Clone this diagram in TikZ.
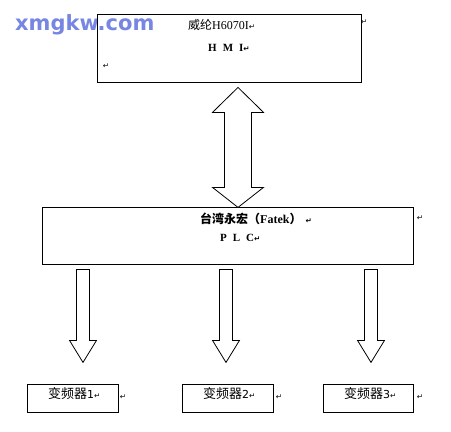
\documentclass[tikz,border=0pt]{standalone}
\usepackage{fontspec}
\setmainfont{Liberation Serif}
\newfontfamily\cjk{Noto Sans CJK SC}
\newfontfamily\symb{DejaVu Sans}
\newcommand\pmark{{\symb\fontsize{7.5}{8}\selectfont ↵}}
\usetikzlibrary{calc}

\definecolor{wmblue}{RGB}{118,134,226}

\begin{document}
\begin{tikzpicture}[x=1pt,y=-1pt,
    box/.style={draw, line width=0.8pt, inner sep=0pt},
    txt/.style={inner sep=0pt, anchor=base west},
    mk/.style={inner sep=0pt},
    blockarrow/.style={draw, line width=0.8pt, fill=white, line join=miter}]

  \useasboundingbox (0,0) rectangle (451,432);

  % watermark
  \node[txt, text=wmblue, font=\symb\bfseries\fontsize{21}{21}\selectfont] (wm) at (15,30) {xmgkw.com};

  % boxes
  \node[box, minimum width=264, minimum height=68] (hmi) at (229,48) {};
  \node[box, minimum width=371, minimum height=57] (plc) at (227.5,235.5) {};
  \node[box, minimum width=91, minimum height=28] (vfd1) at (72.5,398) {};
  \node[box, minimum width=91, minimum height=28] (vfd2) at (227.5,398) {};
  \node[box, minimum width=90, minimum height=28] (vfd3) at (368,398) {};

  % texts
  \begin{scope}[every node/.style={txt, font=\fontsize{12}{13}\selectfont}]
    \node (hmi1) at (188,29) {{\cjk 威纶}H6070I\pmark};
    \node[font=\bfseries\fontsize{11}{12}\selectfont] (hmi2) at (208,51) {H\hspace{6pt}M\hspace{6pt}I\pmark};
    \node[font=\bfseries\fontsize{12}{13}\selectfont] (plc1) at (200,223) {{\cjk 台湾永宏（}Fatek{\cjk ）}\hspace{4pt}\pmark};
    \node[font=\bfseries\fontsize{11}{12}\selectfont] (plc2) at (220,241) {P\hspace{6pt}L\hspace{6pt}C\pmark};
    \node[font=\fontsize{13}{14}\selectfont] (vfdt1) at (48,398) {{\cjk 变频器}{\symb\fontsize{11}{12}\selectfont 1}\pmark};
    \node[font=\fontsize{13}{14}\selectfont] (vfdt2) at (203,398) {{\cjk 变频器}{\symb\fontsize{11}{12}\selectfont 2}\pmark};
    \node[font=\fontsize{13}{14}\selectfont] (vfdt3) at (344,398) {{\cjk 变频器}{\symb\fontsize{11}{12}\selectfont 3}\pmark};
  \end{scope}

  % stray paragraph marks
  \node[mk] (m1) at (106,66) {\pmark};
  \node[mk] (m2) at (364,22) {\pmark};
  \node[mk] (m3) at (420,218) {\pmark};
  \node[mk] (m4) at (123,397) {\pmark};
  \node[mk] (m5) at (279,397) {\pmark};
  \node[mk] (m6) at (420,397) {\pmark};

  % double arrow HMI <-> PLC
  \coordinate (up) at ($(hmi.south)+(9,5)$);
  \draw[blockarrow] (up) -- ++(25.5,25) -- ++(-12,0) -- ++(0,75) -- ++(12,0)
    -- ++(-25.5,20) -- ++(-25.5,-20) -- ++(12,0) -- ++(0,-75) -- ++(-12,0) -- cycle;

  % arrows PLC -> drives
  \coordinate (a1) at ($(plc.south -| vfd1.north)+(10.5,5)$);
  \coordinate (a2) at ($(plc.south -| vfd2.north)+(-1.5,5)$);
  \coordinate (a3) at ($(plc.south -| vfd3.north)+(3,5)$);
  \foreach \a in {a1,a2,a3}
    \draw[blockarrow] ($(\a)+(-6.5,0)$) -- ++(13,0) -- ++(0,71) -- ++(7,0)
      -- ++(-13.5,22) -- ++(-13.5,-22) -- ++(7,0) -- cycle;

\end{tikzpicture}
\end{document}
